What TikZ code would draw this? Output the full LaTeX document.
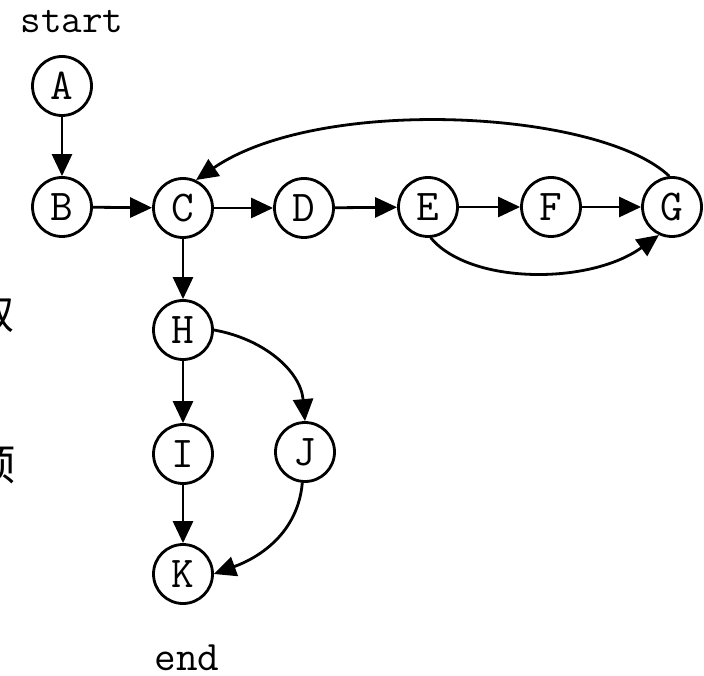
\documentclass[tikz,border=0pt]{standalone}
\usepackage{fontspec}
\newfontfamily\cjk{Noto Sans CJK SC}
\usetikzlibrary{arrows.meta}
\tikzset{
  vertex/.style={circle, draw, line width=2.8pt, minimum size=59pt, inner sep=0pt,
    font=\ttfamily\fontsize{44}{44}\selectfont},
  arr/.style={line width=2.8pt, -{Triangle[length=22pt,width=20pt]}},
  lbl/.style={font=\ttfamily\fontsize{40}{40}\selectfont, inner sep=0pt},
  cjklbl/.style={font=\cjk\fontsize{42}{42}\selectfont, inner sep=0pt, anchor=east}
}
\begin{document}
\begin{tikzpicture}[x=1pt,y=-1pt]
\useasboundingbox (0,0) rectangle (704,676);
\begin{scope}
\clip (0,0) rectangle (704,676);
\node[cjklbl] (c1) at (15,315) {取};
\node[cjklbl] (c2) at (16,466) {顶};
\end{scope}
\node[lbl, anchor=base] (start) at (72,33) {start};
\node[lbl, anchor=base, font=\ttfamily\fontsize{42}{42}\selectfont] (end) at (187,670) {end};
\node[vertex] (A) at (62,86) {A};
\node[vertex] (B) at (62,207) {B};
\node[vertex] (C) at (183,208) {C};
\node[vertex] (D) at (304,208) {D};
\node[vertex] (E) at (428,207) {E};
\node[vertex] (F) at (551,207) {F};
\node[vertex] (G) at (672,207) {G};
\node[vertex] (H) at (183,330) {H};
\node[vertex] (I) at (183,454) {I};
\node[vertex] (J) at (305,452) {J};
\node[vertex] (K) at (183,574) {K};
\draw[arr] (A) -- (B);
\draw[arr] (B) -- (C);
\draw[arr] (C) -- (D);
\draw[arr] (D) -- (E);
\draw[arr] (E) -- (F);
\draw[arr] (F) -- (G);
\draw[arr] (C) -- (H);
\draw[arr] (H) -- (I);
\draw[arr] (I) -- (K);
\draw[arr] (G.95) .. controls (600,110) and (320,95) .. (C.65);
\draw[arr] (E.-85) .. controls (470,285) and (590,285) .. (G.-115);
\draw[arr] (H.east) to[out=-10,in=95] (J.north);
\draw[arr] (J.-95) to[out=-95,in=20] (K.east);
\end{tikzpicture}
\end{document}
